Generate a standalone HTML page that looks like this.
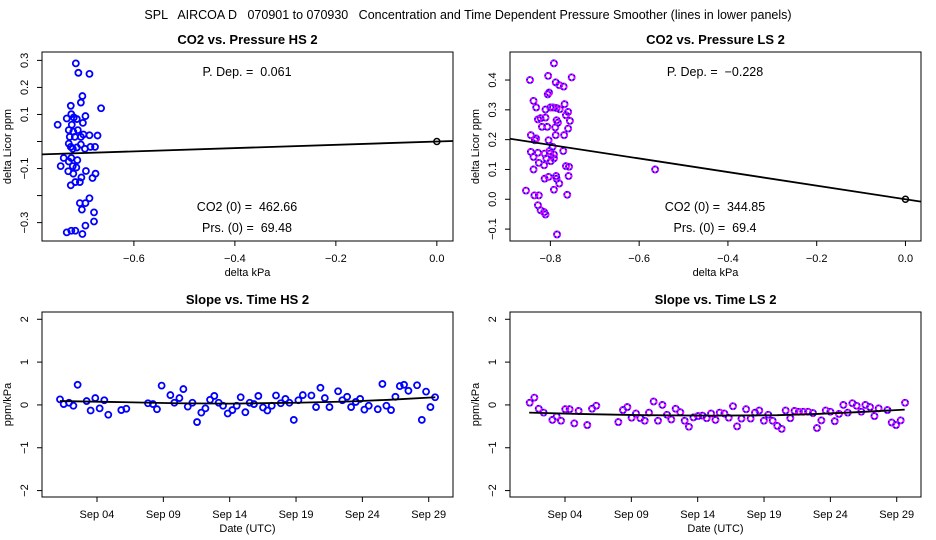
<!DOCTYPE html>
<html><head><meta charset="utf-8"><style>
html,body{margin:0;padding:0;background:#fff}
svg{display:block;font-family:"Liberation Sans",sans-serif}
svg text{white-space:pre}
</style></head><body>
<svg id="c" width="936" height="540" viewBox="0 0 936 540" xml:space="preserve">
<text x="468" y="19" text-anchor="middle" font-size="12.5">SPL   AIRCOA D   070901 to 070930   Concentration and Time Dependent Pressure Smoother (lines in lower panels)</text>
</svg>
<script>
// ---- Data: top-left (HS) scatter
const hsPx = [-0.715,-0.710,-0.688,-0.702,-0.705,-0.725,-0.665,-0.696,-0.724,-0.733,-0.713,-0.719,-0.701,-0.751,-0.723,-0.729,-0.711,-0.720,-0.672,-0.688,-0.727,-0.700,-0.705,-0.717,-0.729,-0.725,-0.713,-0.705,-0.697,-0.686,-0.677,-0.721,-0.739,-0.724,-0.712,-0.729,-0.745,-0.721,-0.714,-0.730,-0.695,-0.676,-0.682,-0.720,-0.704,-0.707,-0.725,-0.716,-0.688,-0.707,-0.696,-0.703,-0.679,-0.679,-0.696,-0.733,-0.724,-0.716,-0.702];
const hsPy = [0.289,0.254,0.250,0.168,0.144,0.132,0.123,0.094,0.101,0.085,0.083,0.089,0.069,0.062,0.062,0.042,0.042,0.036,0.022,0.023,0.017,0.026,0.017,0.017,-0.008,-0.020,-0.022,-0.011,-0.027,-0.020,-0.020,-0.027,-0.061,-0.061,-0.069,-0.074,-0.091,-0.091,-0.096,-0.110,-0.109,-0.119,-0.135,-0.119,-0.133,-0.150,-0.162,-0.150,-0.210,-0.228,-0.228,-0.252,-0.262,-0.296,-0.311,-0.336,-0.330,-0.330,-0.342];
const hsSlope = 0.061;
// ---- Data: top-right (LS) scatter
const lsPx = [-0.792,-0.846,-0.805,-0.752,-0.788,-0.780,-0.770,-0.803,-0.806,-0.838,-0.832,-0.768,-0.794,-0.811,-0.800,-0.786,-0.779,-0.760,-0.765,-0.828,-0.822,-0.811,-0.786,-0.783,-0.807,-0.756,-0.760,-0.819,-0.789,-0.769,-0.788,-0.844,-0.832,-0.835,-0.804,-0.795,-0.771,-0.802,-0.813,-0.844,-0.838,-0.828,-0.801,-0.792,-0.809,-0.826,-0.814,-0.799,-0.792,-0.758,-0.765,-0.838,-0.787,-0.759,-0.804,-0.813,-0.786,-0.780,-0.792,-0.855,-0.836,-0.826,-0.762,-0.828,-0.822,-0.814,-0.811,-0.785,-0.564];
const lsPy = [0.456,0.400,0.414,0.409,0.392,0.383,0.378,0.358,0.352,0.330,0.308,0.319,0.308,0.301,0.308,0.306,0.302,0.293,0.282,0.268,0.272,0.274,0.265,0.257,0.243,0.263,0.237,0.243,0.241,0.215,0.215,0.215,0.204,0.198,0.198,0.176,0.162,0.162,0.153,0.159,0.142,0.156,0.153,0.150,0.137,0.122,0.114,0.128,0.137,0.109,0.111,0.100,0.078,0.078,0.075,0.069,0.069,0.053,0.032,0.029,0.013,0.013,0.015,-0.020,-0.037,-0.043,-0.051,-0.118,0.100];
const lsSlope = -0.228;
// ---- Data: bottom-left (HS) slope vs time (day of Sep 2007)
const hsDays = [1.21,1.49,1.89,2.22,2.54,3.22,3.52,3.87,4.20,4.55,4.85,5.83,6.21,7.84,8.22,8.52,8.87,9.53,9.83,10.21,10.51,10.84,11.19,11.54,11.86,12.17,12.52,12.84,13.17,13.50,13.85,14.20,14.53,14.83,15.18,15.51,15.83,16.16,16.51,16.84,17.17,17.49,17.85,18.20,18.50,18.83,19.18,19.51,20.16,20.51,20.84,21.17,21.52,22.17,22.49,22.85,23.15,23.50,23.83,24.15,24.48,25.16,25.51,25.81,26.16,26.49,26.82,27.14,27.47,28.12,28.48,28.80,29.13,29.48];
const hsSlopes = [0.13,0.02,0.05,-0.02,0.47,0.09,-0.13,0.16,-0.08,0.11,-0.23,-0.12,-0.09,0.04,0.02,-0.10,0.45,0.23,0.05,0.16,0.37,-0.04,0.05,-0.40,-0.18,-0.08,0.12,0.21,0.05,-0.02,-0.20,-0.12,-0.02,0.18,-0.17,0.05,0.02,0.21,-0.06,-0.13,-0.02,0.22,0.04,0.14,0.05,-0.35,0.11,0.23,0.22,-0.05,0.40,0.16,-0.05,0.32,0.11,0.19,-0.05,0.07,0.14,-0.11,-0.02,-0.10,0.49,-0.02,-0.12,0.19,0.44,0.47,0.33,0.46,-0.35,0.31,-0.05,0.18];
const hsSmoothDays = [1.2,5,10,14,19,23,26,29.5];
const hsSmoothVals = [0.09,0.07,0.04,0.03,0.05,0.08,0.12,0.18];
// ---- Data: bottom-right (LS) slope vs time
const lsDays = [1.34,1.69,2.02,2.39,3.05,3.37,3.70,4.02,4.35,4.70,5.03,5.68,6.04,6.36,8.02,8.37,8.70,9.02,9.35,9.68,10.01,10.33,10.68,11.01,11.34,11.69,12.01,12.34,12.69,13.02,13.34,13.68,14.03,14.36,14.68,15.01,15.34,15.66,16.01,16.34,16.66,16.97,17.30,17.65,17.99,18.32,18.64,18.99,19.32,19.65,20.00,20.33,20.63,20.98,21.30,21.63,21.96,22.32,22.69,22.99,23.32,23.65,24.00,24.33,24.65,24.98,25.31,25.66,25.98,26.33,26.64,26.99,27.32,27.64,28.30,28.62,28.95,29.30,29.63];
const lsSlopes = [0.05,0.17,-0.09,-0.18,-0.35,-0.27,-0.37,-0.10,-0.10,-0.43,-0.14,-0.47,-0.09,-0.02,-0.40,-0.12,-0.05,-0.30,-0.20,-0.31,-0.37,-0.18,0.08,-0.37,0.00,-0.23,-0.34,-0.09,-0.17,-0.37,-0.51,-0.29,-0.26,-0.25,-0.31,-0.20,-0.35,-0.18,-0.20,-0.30,-0.03,-0.50,-0.32,-0.10,-0.32,-0.18,-0.13,-0.37,-0.23,-0.37,-0.49,-0.56,-0.13,-0.31,-0.14,-0.16,-0.16,-0.16,-0.19,-0.54,-0.36,-0.13,-0.16,-0.38,-0.21,0.00,-0.18,0.04,-0.02,-0.16,0.00,-0.05,-0.26,-0.08,-0.12,-0.41,-0.47,-0.36,0.05];
const lsSmoothDays = [1.3,5,10,15,20,23,26,29.6];
const lsSmoothVals = [-0.18,-0.21,-0.24,-0.25,-0.24,-0.21,-0.17,-0.11];
// ---- Tick labels
const hsYTicks = [-0.3,-0.2,-0.1,0,0.1,0.2,0.3];
const hsYLabels = ["\u22120.3","","\u22120.1","","0.1","0.2","0.3"];
const lsYTicks = [-0.1,0,0.1,0.2,0.3,0.4];
const lsYLabels = ["\u22120.1","0.0","0.1","0.2","0.3","0.4"];
const hsXTicks = [-0.6,-0.4,-0.2,0];
const hsXLabels = ["\u22120.6","\u22120.4","\u22120.2","0.0"];
const lsXTicks = [-0.8,-0.6,-0.4,-0.2,0];
const lsXLabels = ["\u22120.8","\u22120.6","\u22120.4","\u22120.2","0.0"];
const slopeYTicks = [-2,-1,0,1,2];
const slopeYLabels = ["\u22122","\u22121","0","1","2"];
const dateTicks = [4,9,14,19,24,29];
const dateLabels = ["Sep 04","Sep 09","Sep 14","Sep 19","Sep 24","Sep 29"];

const svg = document.getElementById('c');
const NS = 'http://www.w3.org/2000/svg';
function mk(tag, attrs, parent){const e=document.createElementNS(NS,tag);for(const k in attrs)e.setAttribute(k,attrs[k]);(parent||svg).appendChild(e);return e;}
function txt(x,y,s,size,anchor,extra){const t=mk('text',Object.assign({x:x,y:y,'font-size':size,'text-anchor':anchor||'middle'},extra||{}));t.textContent=s;return t;}

function panel(o){
  const g=mk('g',{});
  
  
  const sx=v=>o.x0+(v-o.xmin)/(o.xmax-o.xmin)*(o.x1-o.x0);
  const sy=v=>o.y1-(v-o.ymin)/(o.ymax-o.ymin)*(o.y1-o.y0);
  const box=mk('rect',{x:o.x0,y:o.y0,width:o.x1-o.x0,height:o.y1-o.y0,fill:'none',stroke:'#000','stroke-width':1},g);
  
  
  const t=txt((o.x0+o.x1)/2,o.y0-8,o.title,13,'middle',{'font-weight':'bold'});g.appendChild(t);
  
  
  o.xt.forEach((v,i)=>{const X=sx(v);mk('line',{x1:X,x2:X,y1:o.y1,y2:o.y1+5,stroke:'#000'},g);
    const l=txt(X,o.y1+21,o.xl[i],11);g.appendChild(l);
    
    });
  o.yt.forEach((v,i)=>{const Y=sy(v);mk('line',{x1:o.x0-5,x2:o.x0,y1:Y,y2:Y,stroke:'#000'},g);
    if(o.yl[i]){const l=txt(0,0,o.yl[i],11,'middle',{transform:`translate(${o.x0-14},${Y}) rotate(-90)`});g.appendChild(l);
    
    }});
  const xa=txt((o.x0+o.x1)/2,o.y1+35,o.xlab,11);g.appendChild(xa);
  
  
  const ya=txt(0,0,o.ylab,11,'middle',{transform:`translate(${o.x0-31},${(o.y0+o.y1)/2}) rotate(-90)`});g.appendChild(ya);
  
  
  const cg=mk('g',{});g.appendChild(cg);
  const clipId='cl'+o.name;
  const cp=mk('clipPath',{id:clipId},g);mk('rect',{x:o.x0,y:o.y0,width:o.x1-o.x0,height:o.y1-o.y0},cp);
  cg.setAttribute('clip-path',`url(#${clipId})`);
  o.px.forEach((v,i)=>{
    const c=mk('circle',{cx:sx(v),cy:sy(o.py[i]),r:3,fill:'none',stroke:'#0000ff','stroke-width':1.8},cg);
    
    
    if(o.magenta){mk('circle',{cx:sx(v),cy:sy(o.py[i]),r:3,fill:'none',stroke:'#ff00ff','stroke-width':1.8,'stroke-dasharray':'2 1.5'},cg);}
  });
  let d='';
  if(o.slope!==undefined){d=`M${sx(o.xmin)},${sy(o.slope*o.xmin)}L${sx(o.xmax)},${sy(o.slope*o.xmax)}`;
    const z=mk('circle',{cx:sx(0),cy:sy(0),r:3,fill:'none',stroke:'#000','stroke-width':1.5},cg);
    
    }
  else {d=o.lx.map((v,i)=>(i?'L':'M')+sx(v)+','+sy(o.ly[i])).join('');}
  const ln=mk('path',{d:d,fill:'none',stroke:'#000','stroke-width':1.8},cg);
  
  
  (o.notes||[]).forEach(n=>{const e=txt(n[0],n[1],n[2],12.5);g.appendChild(e);
    
    });
}

panel({name:'co2-pressure-hs',title:'CO2 vs. Pressure HS 2',x0:42,x1:453,y0:52,y1:241,xmin:-0.782,xmax:0.032,ymin:-0.368,ymax:0.331,
  xt:hsXTicks,xl:hsXLabels,yt:hsYTicks,yl:hsYLabels,xlab:'delta kPa',ylab:'delta Licor ppm',px:hsPx,py:hsPy,slope:hsSlope,
  notes:[[247,76,'P. Dep. =  0.061'],[247,211,'CO2 (0) =  462.66'],[247,232,'Prs. (0) =  69.48']]});
panel({name:'co2-pressure-ls',title:'CO2 vs. Pressure LS 2',x0:510,x1:921,y0:52,y1:241,xmin:-0.891,xmax:0.035,ymin:-0.140,ymax:0.494,
  xt:lsXTicks,xl:lsXLabels,yt:lsYTicks,yl:lsYLabels,xlab:'delta kPa',ylab:'delta Licor ppm',px:lsPx,py:lsPy,slope:lsSlope,magenta:true,
  notes:[[715,76,'P. Dep. =  \u22120.228'],[715,211,'CO2 (0) =  344.85'],[715,232,'Prs. (0) =  69.4']]});
panel({name:'slope-time-hs',title:'Slope vs. Time HS 2',x0:42,x1:453,y0:312,y1:497,xmin:-0.145,xmax:30.83,ymin:-2.15,ymax:2.17,
  xt:dateTicks,xl:dateLabels,yt:slopeYTicks,yl:slopeYLabels,xlab:'Date (UTC)',ylab:'ppm/kPa',px:hsDays,py:hsSlopes,lx:hsSmoothDays,ly:hsSmoothVals});
panel({name:'slope-time-ls',title:'Slope vs. Time LS 2',x0:510,x1:921,y0:312,y1:497,xmin:-0.145,xmax:30.83,ymin:-2.15,ymax:2.17,
  xt:dateTicks,xl:dateLabels,yt:slopeYTicks,yl:slopeYLabels,xlab:'Date (UTC)',ylab:'ppm/kPa',px:lsDays,py:lsSlopes,lx:lsSmoothDays,ly:lsSmoothVals,magenta:true});
</script>
</body></html>
